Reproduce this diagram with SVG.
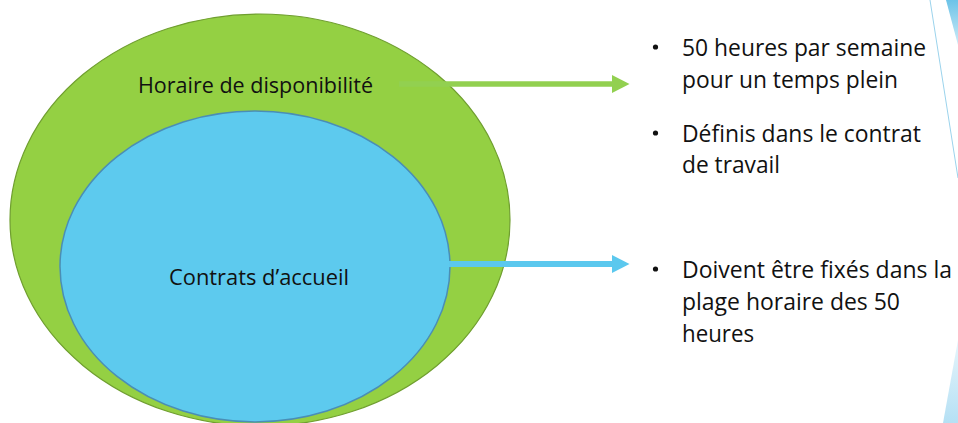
<svg xmlns="http://www.w3.org/2000/svg" width="958" height="423" viewBox="0 0 958 423">
<defs>
<style>
.t{font-family:"Open Sans","Liberation Sans",sans-serif;fill:#111;}
.lbl{font-size:21.5px;}
.bl{font-size:23.5px;}
.dot{fill:#111;}
</style>
<linearGradient id="gTop" x1="0" y1="0" x2="0" y2="1">
<stop offset="0" stop-color="#6CC3E8"/>
<stop offset="1" stop-color="#CDEBF7"/>
</linearGradient>
<linearGradient id="gBot" x1="0" y1="0" x2="0" y2="1">
<stop offset="0" stop-color="#E6F5FB"/>
<stop offset="1" stop-color="#B5E0F4"/>
</linearGradient>
</defs>
<rect width="958" height="423" fill="#FFFFFF"/>
<g id="decor">
<path d="M946 0 L958 0 L958 45 Z" fill="url(#gTop)"/>
<path d="M930 0 L958 178" stroke="#9BD3EC" stroke-width="1" fill="none"/>
<path d="M943 423 L958 340 L958 423 Z" fill="url(#gBot)"/>
</g>
<g id="node-horaire">
<ellipse cx="260" cy="220" rx="250" ry="206" fill="#94D043" stroke="#6F9E2F" stroke-width="1.2"/>
<text class="t lbl" x="138" y="92.5" textLength="235" lengthAdjust="spacingAndGlyphs">Horaire de disponibilité</text>
</g>
<g id="node-contrats">
<ellipse cx="255" cy="266.5" rx="195" ry="155.5" fill="#5DCAEE" stroke="#4A8EB5" stroke-width="1.5"/>
<text class="t lbl" x="169" y="285" textLength="180" lengthAdjust="spacingAndGlyphs">Contrats d’accueil</text>
</g>
<g id="connectors">
<line x1="399" y1="84" x2="613" y2="84" stroke="#92D050" stroke-width="5.5"/>
<path d="M612 75 L629.5 84 L612 93 Z" fill="#92D050"/>
<line x1="449" y1="264" x2="613" y2="264" stroke="#5BC8EE" stroke-width="6"/>
<path d="M612 255 L629.5 264 L612 273 Z" fill="#5BC8EE"/>
</g>
<g id="bullets-horaire">
<circle class="dot" cx="655.5" cy="47" r="2.6"/>
<text class="t bl" x="682" y="56" textLength="244" lengthAdjust="spacingAndGlyphs">50 heures par semaine</text>
<text class="t bl" x="682" y="88" textLength="216" lengthAdjust="spacingAndGlyphs">pour un temps plein</text>
<circle class="dot" cx="655.5" cy="133" r="2.6"/>
<text class="t bl" x="682" y="142" textLength="239" lengthAdjust="spacingAndGlyphs">Définis dans le contrat</text>
<text class="t bl" x="682" y="173" textLength="98" lengthAdjust="spacingAndGlyphs">de travail</text>
</g>
<g id="bullets-contrats">
<circle class="dot" cx="655.5" cy="269" r="2.6"/>
<text class="t bl" x="682" y="278" textLength="270" lengthAdjust="spacingAndGlyphs">Doivent être fixés dans la</text>
<text class="t bl" x="682" y="310" textLength="218" lengthAdjust="spacingAndGlyphs">plage horaire des 50</text>
<text class="t bl" x="682" y="342" textLength="72" lengthAdjust="spacingAndGlyphs">heures</text>
</g>
</svg>
